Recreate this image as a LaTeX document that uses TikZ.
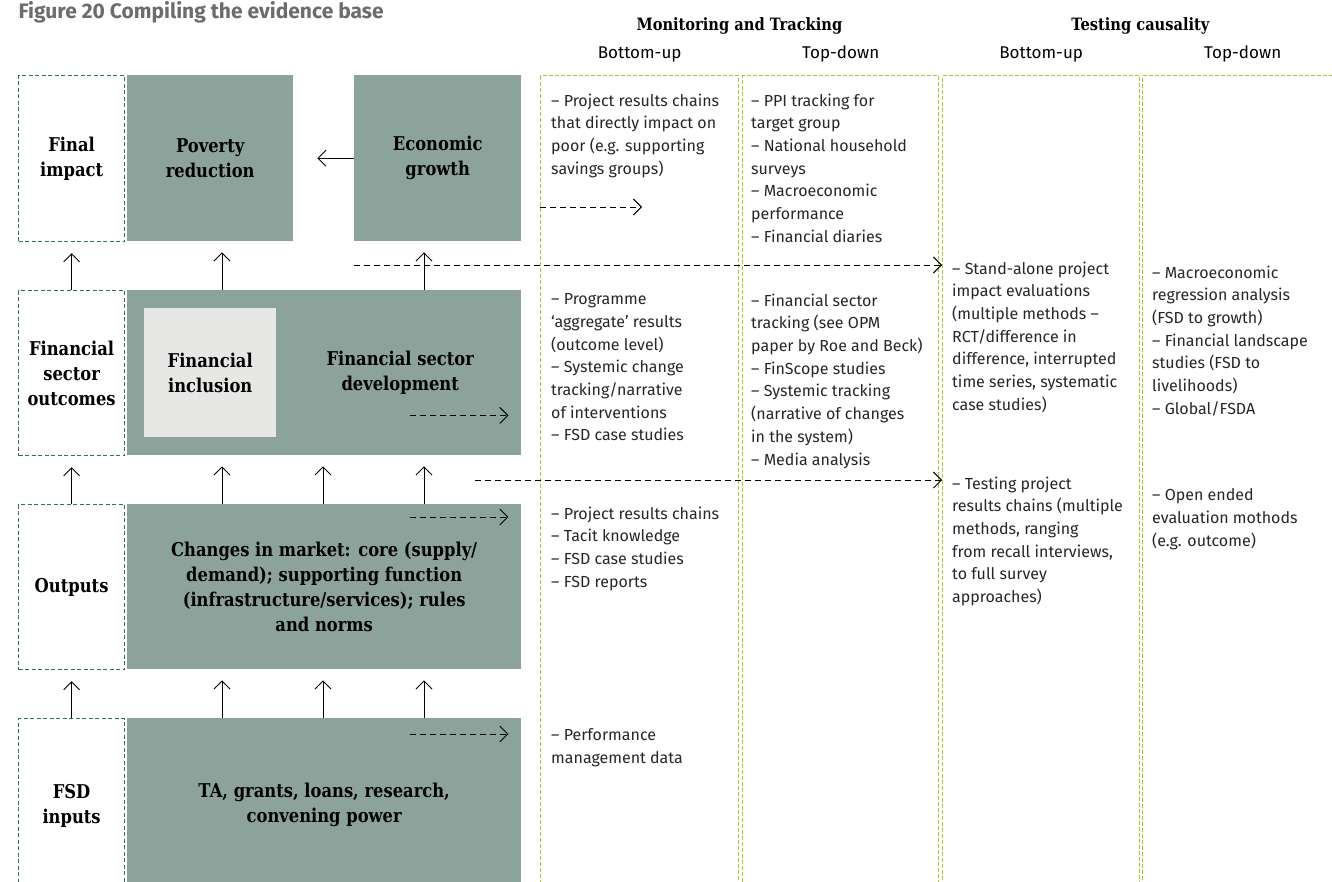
\documentclass[tikz,border=0pt]{standalone}
\usepackage{fontspec}
\setmainfont{Fira Sans}
\newfontfamily\slabfont{DejaVu Serif}[FakeStretch=0.86]
\usetikzlibrary{positioning,arrows.meta}
\definecolor{boxgreen}{RGB}{139,163,155}
\definecolor{incgray}{RGB}{231,231,229}
\definecolor{tealdash}{RGB}{48,112,94}
\definecolor{limedash}{RGB}{160,204,40}
\definecolor{titlegray}{RGB}{108,108,108}
\tikzset{
  boldtext/.style={font=\slabfont\bfseries\fontsize{19}{25}\selectfont},
  levelbox/.style={boldtext, draw=tealdash, dash pattern=on 4pt off 2.5pt, line width=1.2pt, minimum width=106pt, align=center, inner sep=0pt, anchor=north west},
  greenbox/.style={boldtext, fill=boxgreen, align=center, inner sep=0pt, anchor=north west},
  colbox/.style={draw=limedash, dash pattern=on 4pt off 2pt, line width=1.4pt, minimum height=840pt, inner sep=0pt, anchor=north west},
  evid/.style={anchor=north west, align=left, inner sep=0pt, text=black!85, font=\fontsize{16}{22.7}\selectfont},
  colhead/.style={anchor=base, font=\slabfont\bfseries\fontsize{17}{20}\selectfont},
  subhead/.style={anchor=base, font=\fontsize{17}{20}\selectfont},
  tip/.style={-{Straight Barb[length=8pt,width=16pt]}, line width=0.9pt},
  uparrow/.style={tip, shorten >=11pt},
  dasharrow/.style={tip, dash pattern=on 6pt off 4pt}
}
\begin{document}
\begin{tikzpicture}[x = 1pt, y = -1pt]
\useasboundingbox (0,0) rectangle (1332,881);
\node[anchor=base west, text=titlegray, font=\bfseries\fontsize{21}{25}\selectfont] (title) at (15,18) {Figure 20 Compiling the evidence base};
% evidence columns
\node[colbox, minimum width=198pt] (c1) at (540,75) {};
\node[colbox, minimum width=196pt] (c2) at (742,75) {};
\node[colbox, minimum width=197pt] (c3) at (942,75) {};
\node[colbox, minimum width=200pt] (c4) at (1142,75) {};
\node[colhead] (mt) at ([yshift=45pt]c1.north east) {Monitoring and Tracking};
\node[colhead] (tc) at ([yshift=45pt]c3.north east) {Testing causality};
\node[subhead] (bu1) at ([yshift=17pt]c1.north) {Bottom-up};
\node[subhead] (td1) at ([yshift=17pt]c2.north) {Top-down};
\node[subhead] (bu2) at ([yshift=17pt]c3.north) {Bottom-up};
\node[subhead] (td2) at ([yshift=17pt]c4.north) {Top-down};
% levels
\node[levelbox, minimum height=166pt] (fi) at (18,75) {Final\\impact};
\node[levelbox, minimum height=165pt] (fso) at (18,290) {Financial\\sector\\outcomes};
\node[levelbox, minimum height=165pt] (outl) at (18,504) {Outputs};
\node[levelbox, minimum height=174pt] (inl) at (18,718) {FSD\\inputs};
\node[greenbox, minimum width=166pt, minimum height=166pt] (pov) at (127,75) {Poverty\\reduction};
\node[greenbox, minimum width=167pt, minimum height=166pt] (gro) at (354,75) {Economic\\growth};
\node[greenbox, minimum width=394pt, minimum height=165pt] (fsd) at (127,290) {};
\node[boldtext, align=center] (fsdtxt) at ([xshift=76pt]fsd.center) {Financial sector\\development};
\node[boldtext, fill=incgray, align=center, minimum width=132pt, minimum height=129pt, anchor=north west] (inc) at (144,308) {Financial\\inclusion};
\node[greenbox, minimum width=394pt, minimum height=165pt] (outp) at (127,504) {Changes in market: core (supply/\\demand); supporting function\\(infrastructure/services); rules\\and norms};
\node[greenbox, minimum width=394pt, minimum height=174pt] (inp) at (127,718) {TA, grants, loans, research,\\convening power};
% arrows between levels
\draw[uparrow] (fso.north) -- (fi.south);
\draw[uparrow] (222,0 |- fsd.north) -- (222,0 |- pov.south);
\draw[uparrow] (424,0 |- fsd.north) -- (424,0 |- gro.south);
\draw[uparrow] (outl.north) -- (fso.south);
\foreach \ax in {222,323,424} \draw[uparrow] (\ax,0 |- outp.north) -- (\ax,0 |- fsd.south);
\draw[uparrow] (inl.north) -- (outl.south);
\foreach \ax in {222,323,424} \draw[uparrow] (\ax,0 |- inp.north) -- (\ax,0 |- outp.south);
\draw[uparrow, shorten >=24pt] (gro.west) -- (pov.east);
% dashed links to the evidence
\coordinate (d2) at (475,480);
\draw[dasharrow] (c1.west |- 0,207) -- ++(102,0);
\draw[dasharrow] (gro.west |- 0,265) -- (c3.west |- 0,265);
\draw[dasharrow] (d2) -- (c3.west |- d2);
\draw[dasharrow] ([shift={(-111,-40)}]fsd.south east) -- ++(98,0);
\draw[dasharrow] ([shift={(-111,13)}]outp.north east) -- ++(98,0);
\draw[dasharrow] ([shift={(-111,16)}]inp.north east) -- ++(98,0);
% evidence text
\node[evid] (t11) at (551,93.5) {-- Project results chains\\that directly impact on\\poor (e.g. supporting\\savings groups)};
\node[evid] (t21) at (751,93.5) {-- PPI tracking for\\target group\\-- National household\\surveys\\-- Macroeconomic\\performance\\-- Financial diaries};
\node[evid] (t12) at (551,293.5) {-- Programme\\`aggregate' results\\(outcome level)\\-- Systemic change\\tracking/narrative\\of interventions\\-- FSD case studies};
\node[evid] (t22) at (751,293.5) {-- Financial sector\\tracking (see OPM\\paper by Roe and Beck)\\-- FinScope studies\\-- Systemic tracking\\(narrative of changes\\in the system)\\-- Media analysis};
\node[evid] (t32) at (952,261.5) {-- Stand-alone project\\impact evaluations\\(multiple methods --\\RCT/difference in\\difference, interrupted\\time series, systematic\\case studies)};
\node[evid] (t42) at (1152,265.5) {-- Macroeconomic\\regression analysis\\(FSD to growth)\\-- Financial landscape\\studies (FSD to\\livelihoods)\\-- Global/FSDA};
\node[evid] (t13) at (551,506.5) {-- Project results chains\\-- Tacit knowledge\\-- FSD case studies\\-- FSD reports};
\node[evid] (t33) at (952,476.5) {-- Testing project\\results chains (multiple\\methods, ranging\\from recall interviews,\\to full survey\\approaches)};
\node[evid] (t43) at (1152,488.5) {-- Open ended\\evaluation mothods\\(e.g. outcome)};
\node[evid] (t14) at (551,728.5) {-- Performance\\management data};
\end{tikzpicture}
\end{document}
